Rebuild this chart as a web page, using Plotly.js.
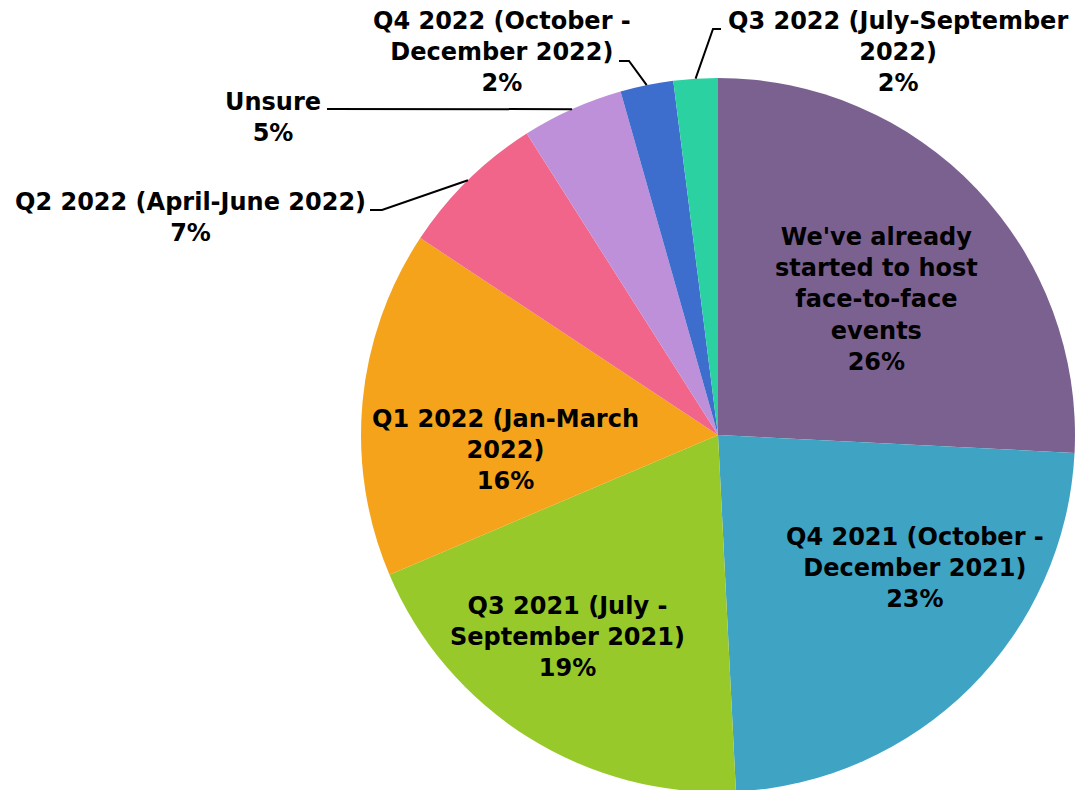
<!DOCTYPE html>
<html><head><meta charset="utf-8">
<script src="https://cdn.plot.ly/plotly-3.0.1.min.js"></script>
<style>html,body{margin:0;padding:0;overflow:hidden;background:#fff}</style>
</head><body><div id="chart" style="width:1076px;height:792px"></div>
<script>
const categories = [
  "We've already started to host face-to-face events",
  "Q4 2021 (October - December 2021)",
  "Q3 2021 (July - September 2021)",
  "Q1 2022 (Jan-March 2022)",
  "Q2 2022 (April-June 2022)",
  "Unsure",
  "Q4 2022 (October - December 2022)",
  "Q3 2022 (July-September 2022)"
];
const displayLabels = [
  "We've already<br>started to host<br>face-to-face<br>events",
  "Q4 2021 (October -<br>December 2021)",
  "Q3 2021 (July -<br>September 2021)",
  "Q1 2022 (Jan-March<br>2022)",
  "Q2 2022 (April-June 2022)",
  "Unsure",
  "Q4 2022 (October -<br>December 2022)",
  "Q3 2022 (July-September<br>2022)"
];
const values = [25.8, 23.4, 19.4, 15.7, 6.7, 4.6, 2.4, 2.0];
const colors = ["#7B6190", "#3FA3C3", "#98C92B", "#F5A31A", "#F06589", "#BF90DA", "#3E6ECD", "#2CD1A2"];

const W = 1076, H = 792, MT = 78;
const CX = 718, CY = 435, R = 357;
const FONT = "DejaVu Sans, sans-serif";
const FS = 24;
const FW = 'bold';

const px = x => x / W;
const py = y => (H - y) / (H - MT);

// label placement (layout, pixels): label centre and optional leader-line bend points
const placement = [
  {lx: 876, ly: 299},
  {lx: 915, ly: 568},
  {lx: 567, ly: 637},
  {lx: 505, ly: 450},
  {lx: 190, ly: 218, path: [[370, 210], [382, 210]]},
  {lx: 273, ly: 117, path: [[327, 109]]},
  {lx: 502, ly: 52, path: [[619, 61], [629, 61]]},
  {lx: 898, ly: 52, path: [[721, 29], [713, 29]]}
];

const total = values.reduce((a, b) => a + b, 0);
let cum = 0;
const annotations = [], shapes = [];
values.forEach((v, i) => {
  const mid = (cum + v / 2) / total * 2 * Math.PI;
  cum += v;
  const o = placement[i];
  if (o.path) {
    const ex = CX + R * Math.sin(mid), ey = CY - R * Math.cos(mid);
    const pts = o.path.concat([[ex, ey]]);
    const d = pts.map((p, k) => (k ? 'L' : 'M') + px(p[0]) + ',' + py(p[1])).join(' ');
    shapes.push({type: 'path', xref: 'paper', yref: 'paper', path: d, line: {color: '#000', width: 2}});
  }
  annotations.push({
    xref: 'paper', yref: 'paper', x: px(o.lx), y: py(o.ly), xanchor: 'center', yanchor: 'middle',
    showarrow: false, align: 'center',
    text: displayLabels[i] + '<br>' + Math.round(v / total * 100) + '%',
    font: {family: FONT, size: FS, color: '#000', weight: FW}
  });
});

const trace = {
  type: 'pie',
  labels: categories,
  values: values,
  sort: false,
  direction: 'clockwise',
  rotation: 0,
  marker: {colors: colors, line: {width: 0}},
  textinfo: 'none',
  hoverinfo: 'label+percent',
  domain: {x: [(CX - R) / W, (CX + R) / W], y: [0, 1]}
};

Plotly.newPlot('chart', [trace], {
  width: W, height: H,
  margin: {l: 0, r: 0, t: MT, b: 0, pad: 0},
  showlegend: false,
  paper_bgcolor: '#fff',
  font: {family: FONT, color: '#000'},
  annotations: annotations,
  shapes: shapes
}, {displayModeBar: false, staticPlot: true});
</script></body></html>
